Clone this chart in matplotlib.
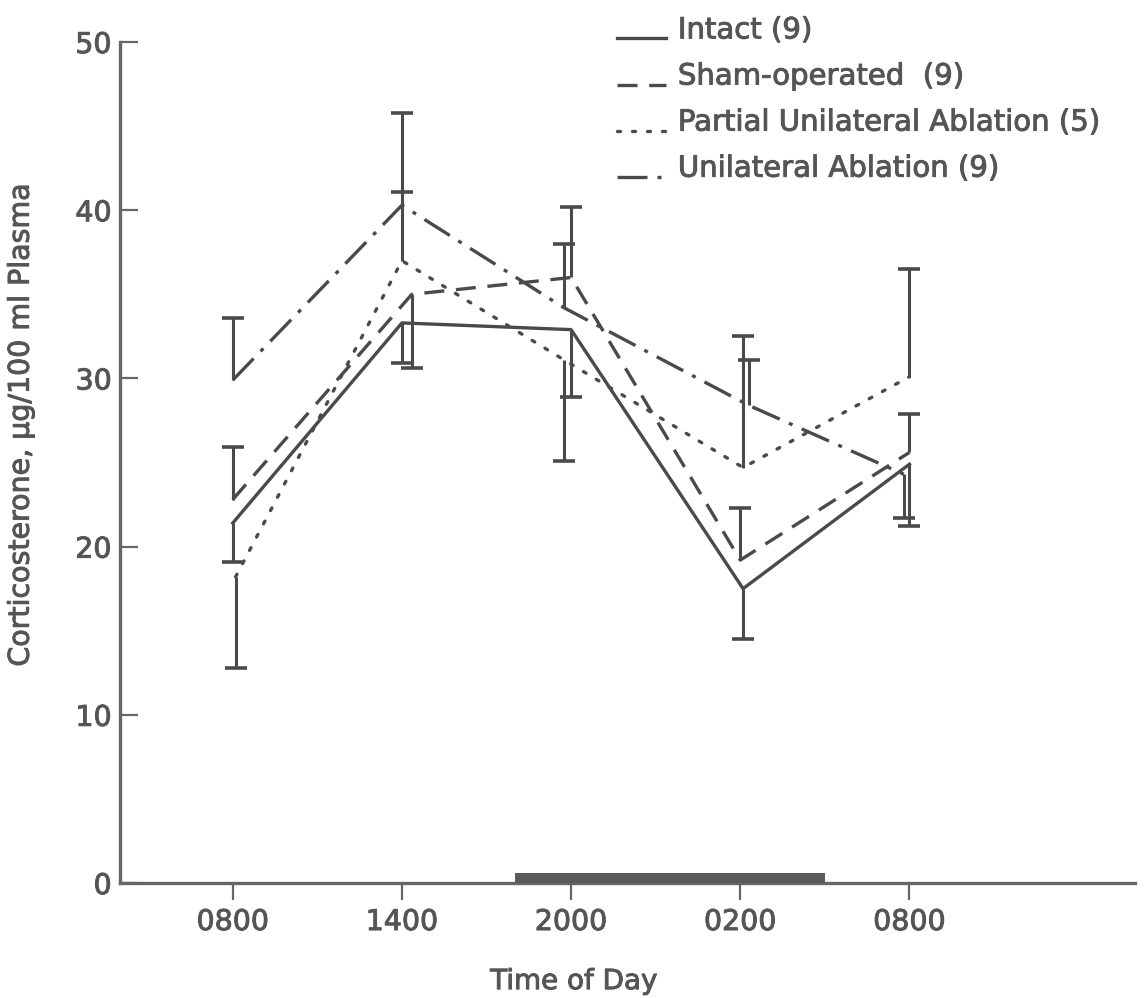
import numpy as np
import matplotlib
matplotlib.use("Agg")
import matplotlib.pyplot as plt
import matplotlib.patheffects as pe

# time of sampling, hours after 0800 on the first day
hours = [0, 6, 12, 18, 24]
tick_labels = ["0800", "1400", "2000", "0200", "0800"]

# dark period drawn on the time axis (hours after 0800)
dark_start = 10
dark_end = 21

# means and standard errors, corticosterone ug/100 ml plasma
intact_mean = [21.4, 33.3, 32.9, 17.5, 24.9]
intact_se = [2.3, 2.4, 4.0, 3.0, 3.7]
intact_dir = [-1, -1, -1, -1, -1]

sham_mean = [22.8, 35.0, 36.0, 19.2, 25.6]
sham_se = [3.1, 4.4, 4.2, 3.1, 2.3]
sham_dir = [1, -1, 1, 1, 1]

partial_mean = [18.2, 37.0, 31.1, 24.7, 30.1]
partial_se = [5.4, 4.1, 6.0, 7.8, 6.4]
partial_dir = [-1, 1, -1, 1, 1]

unilat_mean = [29.9, 40.3, 34.2, 28.4, 24.3]
unilat_se = [3.7, 5.5, 3.8, 2.7, 2.6]
unilat_dir = [1, 1, 1, 1, -1]

labels = ["Intact (9)", "Sham-operated  (9)",
          "Partial Unilateral Ablation (5)", "Unilateral Ablation (9)"]

# small sideways nudges so that overlapping error bars stay visible
nudge = {
    "intact": [0, 0, 0, 0.1, 0],
    "sham": [0, 0.35, 0, 0, 0],
    "partial": [0.1, 0, -0.25, 0.1, 0],
    "unilat": [0, 0, -0.25, 0.3, -0.2],
}

ink = "#4a4a4a"
txt = "#555555"
plt.rcParams["font.family"] = "DejaVu Sans"
thick = [pe.withStroke(linewidth=0.7, foreground=txt)]

fig = plt.figure(figsize=(11.46, 9.98), dpi=100)
ax = fig.add_axes([0.1047, 0.1152, 0.8857, 0.8427])

series = [
    ("intact", intact_mean, intact_se, intact_dir, "-"),
    ("sham", sham_mean, sham_se, sham_dir, (0, (6, 3.5))),
    ("partial", partial_mean, partial_se, partial_dir, (0, (0.9, 3.6))),
    ("unilat", unilat_mean, unilat_se, unilat_dir, (0, (9, 3, 1.2, 3))),
]

for (key, mean, se, direc, ls), lab in zip(series, labels):
    x = np.array(hours) + np.array(nudge[key])
    m = np.array(mean)
    end = m + np.array(direc) * np.array(se)
    ax.plot(x, m, color=ink, lw=2.4, ls=ls, label=lab,
            dash_capstyle="round" if key == "partial" else "butt")
    ax.vlines(x, m, end, color=ink, lw=2.2)
    ax.plot(x, end, ls="none", marker="_", markersize=16, mew=2.6, color=ink)

ax.broken_barh([(dark_start, dark_end - dark_start)], (0, 0.62),
               facecolors="#5a5a5a", clip_on=False, zorder=3)

ax.set_xlim(-4, 32)
ax.set_ylim(0, 50)
ax.set_xticks(hours)
ax.set_xticklabels(tick_labels)
ax.set_yticks([0, 10, 20, 30, 40, 50])

for side in ["top", "right"]:
    ax.spines[side].set_visible(False)
for side in ["left", "bottom"]:
    ax.spines[side].set_color("#666666")
    ax.spines[side].set_linewidth(2.4)

ax.tick_params(axis="x", direction="out", length=12, width=1.6, color="#666666",
               pad=6, labelsize=20.5, labelcolor=txt)
ax.tick_params(axis="y", direction="in", length=13, width=1.6, color="#666666",
               pad=6, labelsize=20.5, labelcolor=txt)
for t in ax.get_xticklabels() + ax.get_yticklabels():
    t.set_path_effects(thick)

ax.set_xlabel("Time of Day", fontsize=20, color=txt, path_effects=thick)
ax.xaxis.set_label_coords(0.447, -0.1)
ax.set_ylabel("Corticosterone, \u03bcg/100 ml Plasma", fontsize=20.5,
              color=txt, path_effects=thick)
ax.yaxis.set_label_coords(-0.084, 0.545)

leg = fig.legend(loc="upper left", bbox_to_anchor=(0.521, 1.004), frameon=False,
                 fontsize=21, handlelength=1.65, handletextpad=0.42,
                 labelspacing=0.62, borderpad=0.2, labelcolor=txt)
for t in leg.get_texts():
    t.set_path_effects(thick)
# sample lines sit on the text baseline, like underscores
for line in leg.get_lines():
    line.set_ydata(np.zeros(len(line.get_xdata())))

fig.savefig("out.png", dpi=100, facecolor="white")
